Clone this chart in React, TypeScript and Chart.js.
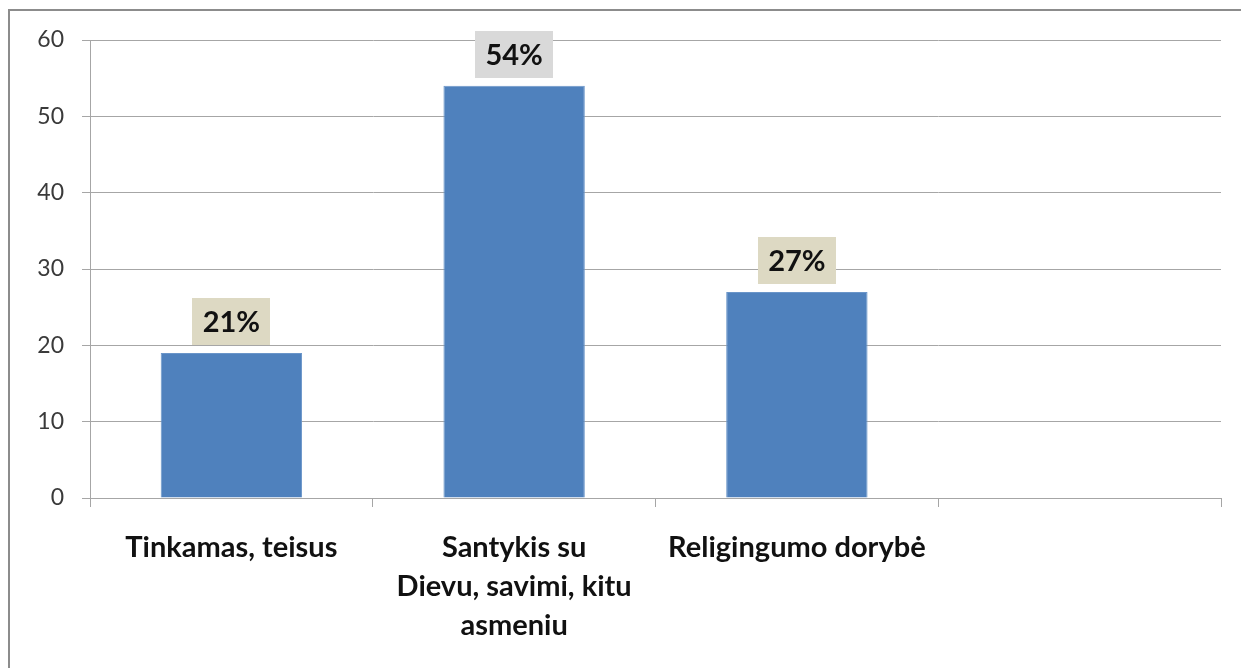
import React, { useEffect, useRef } from "react";
import { Chart, registerables } from "chart.js";

Chart.register(...registerables);

const categories: string[][] = [
  ["Tinkamas, teisus"],
  ["Santykis su", "Dievu, savimi, kitu", "asmeniu"],
  ["Religingumo dorybė"],
  [""],
];
const values: (number | null)[] = [19, 54, 27, null];
const valueLabels = ["21%", "54%", "27%", ""];
const labelBoxColors = ["#DDD9C3", "#D9D9D9", "#DDD9C3", "#FFFFFF"];
const yMin = 0;
const yMax = 60;
const yStep = 10;

const FONT = "Lato, 'Open Sans', sans-serif";

const framePlugin = {
  id: "frame",
  beforeDraw(chart: any) {
    const ctx = chart.ctx;
    ctx.save();
    ctx.fillStyle = "#FFFFFF";
    ctx.fillRect(0, 0, chart.width, chart.height);
    ctx.strokeStyle = "#8C8C8C";
    ctx.lineWidth = 2;
    ctx.beginPath();
    ctx.moveTo(9, chart.height + 2);
    ctx.lineTo(9, 10);
    ctx.lineTo(chart.width + 2, 10);
    ctx.stroke();
    ctx.restore();
  },
};

const valueLabelPlugin = {
  id: "valueLabels",
  afterDatasetsDraw(chart: any) {
    const ctx = chart.ctx;
    const meta = chart.getDatasetMeta(0);
    ctx.save();
    ctx.font = `bold 29px ${FONT}`;
    meta.data.forEach((bar: any, i: number) => {
      const txt = valueLabels[i];
      if (!txt || values[i] == null) return;
      const w = ctx.measureText(txt).width + 21;
      const h = 47;
      const x = bar.x;
      const bottom = bar.y - 8;
      ctx.fillStyle = labelBoxColors[i];
      ctx.fillRect(Math.round(x - w / 2), Math.round(bottom - h), Math.round(w), h);
      ctx.fillStyle = "#111111";
      ctx.textAlign = "center";
      ctx.textBaseline = "middle";
      ctx.fillText(txt, x, bottom - h / 2 + 1);
    });
    ctx.restore();
  },
};

export default function App() {
  const canvasRef = useRef<HTMLCanvasElement | null>(null);

  useEffect(() => {
    if (!canvasRef.current) return;
    const chart = new Chart(canvasRef.current, {
      type: "bar",
      data: {
        labels: categories,
        datasets: [
          {
            data: values,
            backgroundColor: "#4F81BD",
            borderColor: "#6A95C9",
            borderWidth: 1,
            barPercentage: 0.5,
            categoryPercentage: 1,
          },
        ],
      },
      options: {
        responsive: false,
        animation: false,
        layout: { padding: { top: 40, right: 20, left: 0, bottom: 0 } },
        plugins: {
          legend: { display: false },
          tooltip: { enabled: false },
          title: { display: false },
        },
        scales: {
          x: {
            offset: true,
            grid: {
              offset: true,
              drawOnChartArea: false,
              drawTicks: true,
              tickLength: 9,
              color: "#A6A6A6",
            },
            border: { color: "#A6A6A6", width: 1 },
            ticks: {
              autoSkip: false,
              maxRotation: 0,
              minRotation: 0,
              padding: 21,
              color: "#111111",
              font: { family: FONT, size: 29, weight: "bold", lineHeight: "39px" },
            },
            afterFit(scale: any) {
              scale.height = 170;
            },
          },
          y: {
            min: yMin,
            max: yMax,
            ticks: {
              stepSize: yStep,
              padding: 18,
              color: "#3A3A3A",
              font: { family: FONT, size: 23 },
            },
            grid: {
              color: "#A6A6A6",
              tickLength: 8,
              lineWidth: 1,
            },
            border: { color: "#A6A6A6", width: 1 },
            afterFit(scale: any) {
              scale.width = 90;
            },
          },
        },
      },
      plugins: [framePlugin, valueLabelPlugin],
    });
    return () => chart.destroy();
  }, []);

  return (
    <div style={{ position: "fixed", left: 0, top: 0, width: 1241, height: 668, overflow: "hidden", background: "#fff" }}>
      <canvas ref={canvasRef} width={1241} height={668} style={{ display: "block" }} />
    </div>
  );
}
